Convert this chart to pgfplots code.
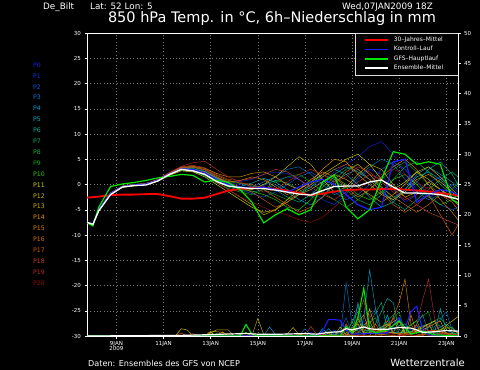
\documentclass[border=0pt]{standalone}
\usepackage{fontspec}
\setmainfont{DejaVu Sans}
\usepackage{pgfplots}
\usepackage{pgfplotstable}
\pgfplotsset{compat=1.18}

\definecolor{pc0}{RGB}{30,30,220}
\definecolor{pc1}{RGB}{0,50,230}
\definecolor{pc2}{RGB}{0,90,225}
\definecolor{pc3}{RGB}{0,120,205}
\definecolor{pc4}{RGB}{0,155,210}
\definecolor{pc5}{RGB}{0,180,195}
\definecolor{pc6}{RGB}{0,175,150}
\definecolor{pc7}{RGB}{0,175,100}
\definecolor{pc8}{RGB}{0,175,60}
\definecolor{pc9}{RGB}{0,165,20}
\definecolor{pc10}{RGB}{40,200,0}
\definecolor{pc11}{RGB}{210,205,0}
\definecolor{pc12}{RGB}{195,185,0}
\definecolor{pc13}{RGB}{210,175,0}
\definecolor{pc14}{RGB}{220,150,0}
\definecolor{pc15}{RGB}{220,130,0}
\definecolor{pc16}{RGB}{210,110,0}
\definecolor{pc17}{RGB}{205,90,0}
\definecolor{pc18}{RGB}{195,60,40}
\definecolor{pc19}{RGB}{185,40,40}
\definecolor{pc20}{RGB}{155,10,10}
\definecolor{ctlblue}{RGB}{30,30,255}
\definecolor{gfsgreen}{RGB}{0,230,0}
\definecolor{gridgray}{RGB}{120,120,120}

% temperature at 850 hPa, one row per series (transposed below)
\pgfplotstableread{
name c0 c1 c2 c3 c4 c5 c6 c7 c8 c9 c10 c11 c12 c13 c14 c15 c16 c17 c18 c19 c20 c21 c22 c23 c24 c25 c26 c27 c28 c29 c30 c31 c32 c33
d 7.75 8.0 8.25 8.75 9.25 9.75 10.25 10.75 11.25 11.75 12.25 12.75 13.25 13.75 14.25 14.75 15.25 15.75 16.25 16.75 17.25 17.75 18.25 18.75 19.25 19.75 20.25 20.75 21.25 21.75 22.25 22.75 23.25 23.5
p0 -7.5 -7.8 -5.1 -1.9 -0.4 -0.1 0.1 0.9 2.2 3.2 3.0 2.4 1.2 0.3 0.0 -0.5 -0.2 0.8 1.5 1.0 -0.5 0.5 2.5 4.0 5.5 7.5 8.5 6.0 2.0 -1.0 -2.5 -1.5 -3.0 -3.5
p1 -7.6 -8.0 -5.3 -2.0 -0.6 -0.3 -0.1 0.6 1.8 2.9 2.9 2.3 1.0 0.5 0.6 1.0 2.0 2.5 2.2 1.0 -1.0 -3.0 -4.0 -2.0 1.0 3.0 2.0 -1.0 -3.5 -2.0 0.5 1.5 -0.5 -1.5
p2 -7.4 -7.7 -4.9 -1.6 -0.3 0.0 0.2 1.0 2.3 3.3 3.4 2.8 1.5 -0.2 -1.0 -1.8 -2.5 -1.5 0.0 1.5 2.5 1.0 -1.5 -3.0 -2.0 0.0 3.0 4.5 3.0 0.5 -2.0 -4.0 -5.0 -4.5
p3 -7.6 -7.9 -5.2 -2.0 -0.5 -0.3 0.0 0.7 1.9 2.8 2.6 1.8 0.5 -0.3 -0.8 -0.5 0.5 1.5 3.0 3.5 2.0 0.0 -2.0 -1.0 1.5 3.5 5.0 4.0 1.0 -1.5 -3.0 -2.0 0.0 -1.0
p4 -7.5 -7.8 -5.0 -1.7 -0.4 -0.1 0.1 0.9 2.1 3.1 3.1 2.5 1.3 0.2 -0.5 -1.5 -1.0 0.0 -1.5 -3.0 -4.0 -2.5 0.5 2.0 3.0 1.0 -1.5 -3.0 -1.0 2.0 3.5 2.0 0.5 -0.5
p5 -7.6 -7.9 -5.1 -1.8 -0.5 -0.2 0.0 0.8 2.0 3.0 2.9 2.2 0.9 -0.2 -0.4 0.3 1.2 0.5 -1.0 -2.0 -0.5 1.5 3.0 2.0 0.0 -2.5 -4.5 -3.5 -1.0 1.5 2.5 1.0 -1.5 -2.5
p6 -7.5 -7.8 -5.0 -1.8 -0.4 -0.1 0.1 0.8 2.1 3.0 3.0 2.3 1.0 0.0 -0.6 -0.9 -0.5 -1.0 -2.5 -3.5 -2.0 0.0 2.0 3.5 2.5 1.0 -0.5 -2.5 -1.5 0.5 3.0 4.5 2.0 0.0
p7 -7.6 -8.0 -5.2 -1.9 -0.5 -0.2 0.0 0.7 2.0 2.9 2.7 2.0 0.6 -0.5 -1.2 -1.0 0.0 0.8 0.3 -1.0 -2.5 -1.5 1.0 3.0 4.0 2.0 -1.0 -3.5 -5.0 -3.0 -1.0 1.0 2.5 1.5
p8 -7.5 -7.8 -5.0 -1.7 -0.3 0.0 0.2 0.9 2.2 3.2 3.2 2.6 1.4 0.6 0.2 -0.3 -1.0 -2.0 -3.0 -2.0 0.0 2.0 1.0 -1.0 -3.0 -4.0 -2.0 1.0 3.5 4.5 2.5 0.0 -2.0 -3.0
p9 -7.6 -7.9 -5.1 -1.9 -0.5 -0.2 0.0 0.7 1.9 2.8 2.6 1.7 0.3 -0.8 -1.5 -2.0 -1.0 0.5 1.5 2.0 0.5 -1.5 -3.0 -4.5 -3.0 -1.0 1.0 3.0 4.5 2.5 0.0 -2.0 -1.0 0.5
p10 -7.5 -7.8 -5.0 -1.8 -0.4 -0.1 0.1 0.8 2.0 3.0 2.8 2.1 0.8 -0.3 -0.9 -1.3 -2.0 -3.0 -4.5 -5.0 -3.0 -0.5 1.5 0.0 -2.0 -3.0 -1.5 1.0 2.0 0.0 -2.5 -4.0 -3.0 -2.0
p11 -7.6 -7.9 -5.2 -2.0 -0.6 -0.3 -0.1 0.6 1.8 2.7 2.5 1.5 0.0 -1.5 -3.0 -4.5 -5.5 -5.0 -3.0 -1.0 0.5 2.0 3.5 5.0 6.0 4.0 1.0 -1.0 0.5 2.5 1.0 -1.0 -2.5 -3.0
p12 -7.5 -7.8 -5.1 -1.8 -0.4 -0.1 0.1 0.8 2.1 3.1 3.0 2.4 1.0 0.0 -0.7 -1.0 0.0 1.5 3.5 5.5 4.0 1.0 -1.5 -0.5 2.0 4.0 3.0 0.0 -2.5 -1.5 0.5 -1.0 -3.0 -4.0
p13 -7.6 -7.9 -5.1 -1.9 -0.5 -0.2 0.0 0.7 1.9 2.9 2.8 2.2 0.5 -1.0 -2.5 -4.0 -6.0 -5.0 -3.5 -2.0 -1.0 0.5 2.0 1.0 -0.5 -2.0 -3.5 -2.0 0.0 2.5 3.5 1.5 -1.0 -2.0
p14 -7.5 -7.8 -5.0 -1.7 -0.3 0.0 0.2 0.9 2.3 3.4 3.6 3.2 2.2 1.5 1.5 2.2 2.5 1.5 0.0 -1.0 0.5 3.0 5.0 4.5 2.0 0.0 -2.0 -3.0 -1.5 1.0 2.0 0.5 -1.5 -2.5
p15 -7.6 -7.9 -5.2 -1.9 -0.5 -0.2 0.0 0.7 2.0 3.0 3.0 2.5 1.3 0.5 0.8 1.5 1.0 -0.5 -2.0 -1.0 1.0 2.5 1.5 -0.5 -2.5 -1.0 1.5 3.5 5.0 3.0 0.0 -3.0 -5.5 -7.0
p16 -7.5 -7.8 -5.0 -1.8 -0.4 -0.1 0.1 0.9 2.2 3.3 3.5 3.0 1.8 0.8 0.3 0.0 -1.0 -2.5 -4.0 -5.5 -4.5 -2.5 0.0 2.5 4.0 2.0 -0.5 -2.5 -4.0 -5.5 -4.0 -2.0 -3.5 -5.0
p17 -7.6 -7.9 -5.1 -1.9 -0.4 -0.1 0.1 0.8 2.1 3.2 3.4 2.9 1.6 0.4 -0.5 -1.5 -3.0 -4.5 -3.5 -1.5 0.0 1.5 3.0 4.0 3.0 1.0 -1.5 -4.0 -5.5 -4.0 -2.0 -6.0 -10.0 -8.0
p18 -7.5 -7.8 -5.0 -1.7 -0.3 0.0 0.2 1.0 2.4 3.5 3.8 3.3 2.0 1.0 0.8 1.2 2.0 3.0 2.5 1.0 -0.5 -2.0 -3.0 -1.5 0.5 2.0 1.0 -1.0 -2.5 -4.0 -5.5 -6.5 -7.5 -8.0
p19 -7.6 -7.9 -5.1 -1.8 -0.4 -0.1 0.1 0.9 2.3 3.6 4.3 4.6 3.0 1.5 0.5 -0.5 -1.5 -1.0 0.5 2.0 3.0 2.0 0.5 1.5 3.5 2.5 0.5 -1.5 -3.0 -2.0 -0.5 -1.5 -3.0 -3.5
p20 -7.5 -7.8 -5.1 -1.9 -0.5 -0.2 0.0 0.8 2.0 3.0 2.8 2.0 0.5 -1.0 -2.5 -3.5 -4.5 -5.5 -6.0 -7.0 -7.5 -6.5 -4.5 -2.5 -1.0 0.5 2.0 3.0 2.0 0.5 -1.0 -2.0 -3.0 -3.5
ctl -7.5 -7.8 -5.0 -1.8 -0.4 -0.1 0.1 0.8 2.1 3.1 3.0 2.3 1.0 0.0 -0.5 -0.8 -0.5 -1.0 -1.5 -0.5 0.5 1.0 0.0 -2.0 -4.0 -5.0 -4.5 4.5 5.0 -3.5 -2.0 -1.0 -1.5 -2.0
gfs -7.6 -8.2 -4.5 -0.4 0.1 0.4 0.8 1.3 1.6 2.0 1.8 0.5 0.9 0.4 -1.0 -3.5 -7.6 -6.0 -4.8 -6.0 -5.0 0.5 1.9 -4.5 -6.8 -5.0 1.0 6.5 6.0 4.0 4.5 4.0 -3.0 -3.7
mean -7.5 -7.9 -5.2 -2.0 -0.5 -0.2 -0.1 0.7 2.0 3.0 2.7 2.0 0.6 -0.3 -0.6 -0.8 -0.8 -1.1 -1.5 -1.9 -2.1 -1.2 -0.4 -0.3 -0.3 0.5 0.9 -0.5 -1.7 -1.7 -1.8 -2.0 -2.6 -2.9
clim -2.6 -2.5 -2.4 -2.1 -2.0 -2.0 -1.9 -1.9 -2.3 -2.8 -2.8 -2.6 -1.9 -1.2 -0.9 -0.7 -0.6 -0.9 -1.2 -1.7 -2.1 -1.8 -1.4 -1.1 -1.0 -1.0 -0.9 -0.9 -1.0 -1.2 -1.4 -1.7 -2.0 -2.1
}\tempraw
\pgfplotstabletranspose[colnames from=name]{\temp}{\tempraw}

\newcommand{\fs}[1]{\fontsize{#1bp}{#1bp}\selectfont}

\begin{document}
\begin{tikzpicture}
\fill[black] (0,0) rectangle (480bp,370bp);

\begin{axis}[
  at={(87bp,34bp)}, anchor=south west,
  scale only axis, width=371bp, height=303bp,
  xmin=7.75, xmax=23.5, ymin=-30, ymax=30,
  xtick={9,11,13,15,17,19,21,23},
  xticklabels={{9JAN\\2009},11JAN,13JAN,15JAN,17JAN,19JAN,21JAN,23JAN},
  xticklabel style={align=center, text=white, font=\fs{5.5}, yshift=1bp},
  xtick pos=bottom,
  ytick={-30,-25,...,30},
  ytick pos=left,
  yticklabel style={text=white, font=\fs{5.5}},
  /pgf/number format/assume math mode=true,
  grid=major,
  grid style={color=gridgray, dash pattern=on 0.7bp off 2.6bp, line width=0.5bp},
  axis line style={white, line width=0.9bp},
  tick style={white, line width=0.5bp},
  major tick length=2.5bp,
  tick align=outside,
  legend style={at={(1,1)}, anchor=north east, fill=black, draw=white!85!black,
    line width=0.5bp, text=white, font=\fs{6}, inner xsep=9bp, inner ysep=3bp,
    row sep=2.2bp, nodes={inner xsep=5.5bp, inner ysep=0.6bp}},
  legend cell align=left,
  legend image code/.code={\draw[#1, line width=1.5bp] (0bp,0bp) -- (23bp,0bp);},
]
\pgfplotsinvokeforeach{0,...,20}{
  \addplot[pc#1, line width=0.45bp, forget plot] table[x=d, y=p#1]{\temp};
}
\addplot[red, line width=1.8bp] table[x=d, y=clim]{\temp};
\addlegendentry{30–Jahres–Mittel}
\addplot[ctlblue, line width=1.2bp] table[x=d, y=ctl]{\temp};
\addlegendentry{Kontroll–Lauf}
\addplot[gfsgreen, line width=1.2bp] table[x=d, y=gfs]{\temp};
\addlegendentry{GFS–Hauptlauf}
\addplot[white, line width=1.3bp] table[x=d, y=mean]{\temp};
\addlegendentry{Ensemble–Mittel}
\end{axis}

\begin{axis}[
  at={(87bp,34bp)}, anchor=south west,
  scale only axis, width=371bp, height=303bp,
  xmin=7.75, xmax=23.5, ymin=0, ymax=50,
  axis x line=none, axis y line*=right,
  ytick={0,5,...,50},
  yticklabel style={text=white, font=\fs{5.5}},
  /pgf/number format/assume math mode=true,
  axis line style={white, line width=0.9bp},
  tick style={white, line width=0.5bp},
  major tick length=2.5bp,
  tick align=outside,
]
\addplot[pc0, line width=0.45bp] coordinates {(7.75,0)(17.0,0)(17.25,0.6)(17.5,0)(18.5,0.5)(18.75,1.8)(19.0,0.4)(19.5,2.5)(19.75,0.8)(20.25,1.2)(20.5,3.0)(20.75,0.5)(21.5,0.5)(21.75,2.0)(22.0,0.3)(23.0,1.0)(23.5,0.2)};
\addplot[pc1, line width=0.45bp] coordinates {(7.75,0)(18.0,0)(18.25,1.0)(18.5,0.3)(19.25,2.0)(19.5,0.5)(20.75,0.5)(21.0,2.8)(21.25,0.6)(22.0,0.8)(22.5,0.4)(23.5,0.5)};
\addplot[pc2, line width=0.45bp] coordinates {(7.75,0)(18.25,0)(18.5,1.0)(18.75,3.0)(19.0,0.5)(19.5,1.5)(20.0,4.5)(20.25,0.8)(21.0,0.5)(22.25,2.0)(22.5,0.2)(23.5,0)};
\addplot[pc3, line width=0.45bp] coordinates {(7.75,0)(16.75,0)(17.0,1.2)(17.25,0.2)(18.5,0)(18.75,8.8)(19.0,2.0)(19.25,5.0)(19.5,1.0)(20.0,0.5)(20.5,2.0)(21.0,0.5)(22.5,1.5)(23.0,4.0)(23.25,1.0)(23.5,0.5)};
\addplot[pc4, line width=0.45bp] coordinates {(7.75,0)(15.25,0)(15.5,1.5)(15.75,0.2)(16.0,0)(17.75,0)(18.0,1.2)(18.25,0.2)(19.25,0)(19.5,3.0)(19.75,10.9)(20.0,4.5)(20.25,0.5)(21.5,0.5)(22.0,3.5)(22.25,0.5)(23.0,2.0)(23.5,0.5)};
\addplot[pc5, line width=0.45bp] coordinates {(7.75,0)(17.5,0)(17.75,1.2)(18.0,0.3)(19.0,0)(19.25,5.5)(19.5,1.0)(20.25,0.5)(20.5,3.5)(20.75,0.5)(22.5,0.5)(22.75,4.5)(23.0,1.0)(23.5,0.2)};
\addplot[pc6, line width=0.45bp] coordinates {(7.75,0)(18.75,0)(19.0,1.5)(19.5,0.2)(20.0,2.0)(20.5,6.2)(20.75,5.5)(21.0,1.0)(22.0,0.5)(22.5,2.5)(23.0,0.5)(23.5,0.3)};
\addplot[pc7, line width=0.45bp] coordinates {(7.75,0)(18.5,0)(18.75,0.5)(19.25,4.0)(19.5,0.5)(20.25,5.5)(20.5,1.0)(21.25,2.0)(21.5,0.3)(22.75,3.0)(23.25,0.5)(23.5,0.2)};
\addplot[pc8, line width=0.45bp] coordinates {(7.75,0)(13.0,0)(13.25,0.4)(13.5,0)(18.75,0)(19.0,2.5)(19.25,0.5)(20.0,3.0)(20.25,0.5)(21.0,4.0)(21.25,0.5)(22.0,0.8)(23.5,0.3)};
\addplot[pc9, line width=0.45bp] coordinates {(7.75,0)(18.0,0)(18.25,0.8)(18.5,0)(19.5,0)(19.75,1.8)(20.0,0.3)(20.75,3.5)(21.0,0.5)(22.25,4.0)(22.5,0.5)(23.5,0)};
\addplot[pc10, line width=0.45bp] coordinates {(7.75,0)(14.0,0)(14.5,0.6)(14.75,0)(19.0,0)(19.25,2.0)(19.5,0.5)(20.5,1.0)(21.0,0.3)(21.75,2.5)(22.0,0.3)(23.25,1.5)(23.5,0.3)};
\addplot[pc11, line width=0.45bp] coordinates {(7.75,0)(11.5,0)(11.75,1.2)(12.0,1.0)(12.25,0)(12.75,0)(13.0,0.6)(13.25,0)(17.75,0)(18.0,0.5)(18.25,0)(19.0,0)(19.25,3.0)(19.5,0.5)(21.0,0)(21.25,1.5)(21.5,0.3)(22.5,2.5)(22.75,0.5)(23.5,0.2)};
\addplot[pc12, line width=0.45bp] coordinates {(7.75,0)(12.75,0)(13.0,0.8)(13.5,0.6)(13.75,0)(14.75,0)(15.0,2.9)(15.25,0.3)(16.0,0)(16.25,0.3)(16.5,1.4)(16.75,0.2)(18.5,0)(18.75,2.0)(19.0,0.5)(19.75,2.5)(20.0,0.3)(21.0,3.0)(21.25,0.5)(22.75,1.0)(23.5,3.2)};
\addplot[pc13, line width=0.45bp] coordinates {(7.75,0)(12.75,0)(13.25,1.0)(13.75,1.0)(14.0,0)(18.25,0)(18.5,1.5)(18.75,0.2)(19.5,0)(19.75,4.5)(20.0,1.0)(20.75,0.5)(21.0,2.5)(21.25,0.2)(22.25,2.0)(22.5,0.2)(23.5,0)};
\addplot[pc14, line width=0.45bp] coordinates {(7.75,0)(13.25,0)(13.5,0.7)(13.75,0)(18.75,0)(19.0,1.0)(19.5,3.5)(19.75,0.5)(20.5,2.0)(20.75,0.5)(21.25,0)(21.5,3.5)(21.75,0.5)(22.75,2.5)(23.0,0.3)(23.5,0)};
\addplot[pc15, line width=0.45bp] coordinates {(7.75,0)(18.5,0)(18.75,0.5)(19.25,2.0)(19.5,0.3)(20.5,0.8)(21.0,5.5)(21.25,9.4)(21.5,2.0)(21.75,0.3)(22.75,0)(23.0,1.5)(23.5,0.5)};
\addplot[pc16, line width=0.45bp] coordinates {(7.75,0)(16.5,0)(16.75,0.4)(17.0,0)(18.75,0)(19.0,1.2)(19.25,0.2)(20.25,0)(20.5,2.5)(20.75,0.5)(22.0,0)(22.25,1.0)(23.5,0.2)};
\addplot[pc17, line width=0.45bp] coordinates {(7.75,0)(11.5,0)(11.75,0.5)(12.0,0)(18.25,0)(18.5,0.8)(18.75,0.2)(19.75,0)(20.0,2.0)(20.25,0.3)(21.5,0.5)(21.75,1.8)(22.0,0.2)(23.5,0)};
\addplot[pc18, line width=0.45bp] coordinates {(7.75,0)(17.0,0)(17.25,1.6)(17.5,0.3)(18.75,0)(19.0,0.5)(19.5,6.0)(19.75,1.0)(20.5,0.5)(20.75,3.0)(21.0,0.3)(22.0,0)(22.25,2.0)(22.5,0.5)(23.5,0)};
\addplot[pc19, line width=0.45bp] coordinates {(7.75,0)(12.0,0)(12.25,0.4)(12.5,0)(18.5,0)(18.75,1.0)(19.0,0.2)(19.75,1.5)(20.0,0.2)(21.5,0)(21.75,2.0)(22.0,6.0)(22.25,9.4)(22.5,3.0)(22.75,0.5)(23.5,0.2)};
\addplot[pc20, line width=0.45bp] coordinates {(7.75,0)(18.5,0)(18.75,2.0)(19.0,0.3)(19.5,0)(19.75,3.5)(20.0,0.5)(20.5,0.5)(21.0,0)(21.5,0.5)(22.5,1.0)(23.0,0.2)(23.5,0)};
\addplot[ctlblue, line width=1.1bp] coordinates {(7.75,0)(17.5,0)(17.75,0.8)(18.0,2.7)(18.25,2.7)(18.5,2.6)(18.75,1.0)(19.0,0.3)(20.5,0.5)(20.75,1.8)(21.0,3.0)(21.25,1.2)(21.5,4.0)(21.75,4.9)(22.0,1.0)(22.25,0.2)(23.5,0)};
\addplot[gfsgreen, line width=1.1bp] coordinates {(7.75,0)(14.25,0)(14.5,1.9)(14.75,0.3)(15.0,0)(18.5,0)(18.75,1.6)(19.0,0.5)(19.25,3.0)(19.5,7.9)(19.75,1.0)(20.0,0.5)(20.5,1.0)(21.0,2.5)(21.5,0.3)(22.0,0.8)(22.5,0.2)(23.5,0)};
\addplot[white, line width=1.2bp] coordinates {(7.75,0)(11.75,0.1)(12.75,0.2)(13.5,0.3)(14.5,0.4)(15.0,0.3)(16.0,0.3)(17.0,0.4)(17.5,0.3)(18.0,0.6)(18.5,0.7)(18.75,1.2)(19.0,1.0)(19.5,1.5)(19.75,1.2)(20.0,1.1)(20.5,1.1)(21.0,1.4)(21.5,1.3)(21.75,1.0)(22.0,0.6)(22.5,0.7)(23.0,0.9)(23.5,0.8)};
\end{axis}

% header texts
\node[anchor=base west, text=white, font=\fs{8.8}, inner sep=0] at (43bp,360bp) {De\_Bilt};
\node[anchor=base west, text=white, font=\fs{8.8}, inner sep=0] at (90bp,360bp) {Lat: 52 Lon: 5};
\node[anchor=base east, text=white, font=\fs{8.8}, inner sep=0] at (433bp,360bp) {Wed,07JAN2009 18Z};
\node[anchor=base, text=white, font=\fs{14.5}, inner sep=0] at (272bp,347bp) {850 hPa Temp. in °C, 6h–Niederschlag in mm};
% footer texts
\node[anchor=base west, text=white, font=\fs{8.1}, inner sep=0] at (88bp,4bp) {Daten: Ensembles des GFS von NCEP};
\node[anchor=base east, text=white, font=\fs{10}, inner sep=0] at (465bp,4bp) {Wetterzentrale};
% member labels
\foreach \i in {0,...,20}{
  \node[anchor=west, text=pc\i, font=\fs{6.2}, inner sep=0] at (33bp,{(305-10.9*\i)*1bp}) {P\i};
}
\pgfresetboundingbox
\useasboundingbox (0,0) rectangle (480bp,370bp);
\end{tikzpicture}
\end{document}
